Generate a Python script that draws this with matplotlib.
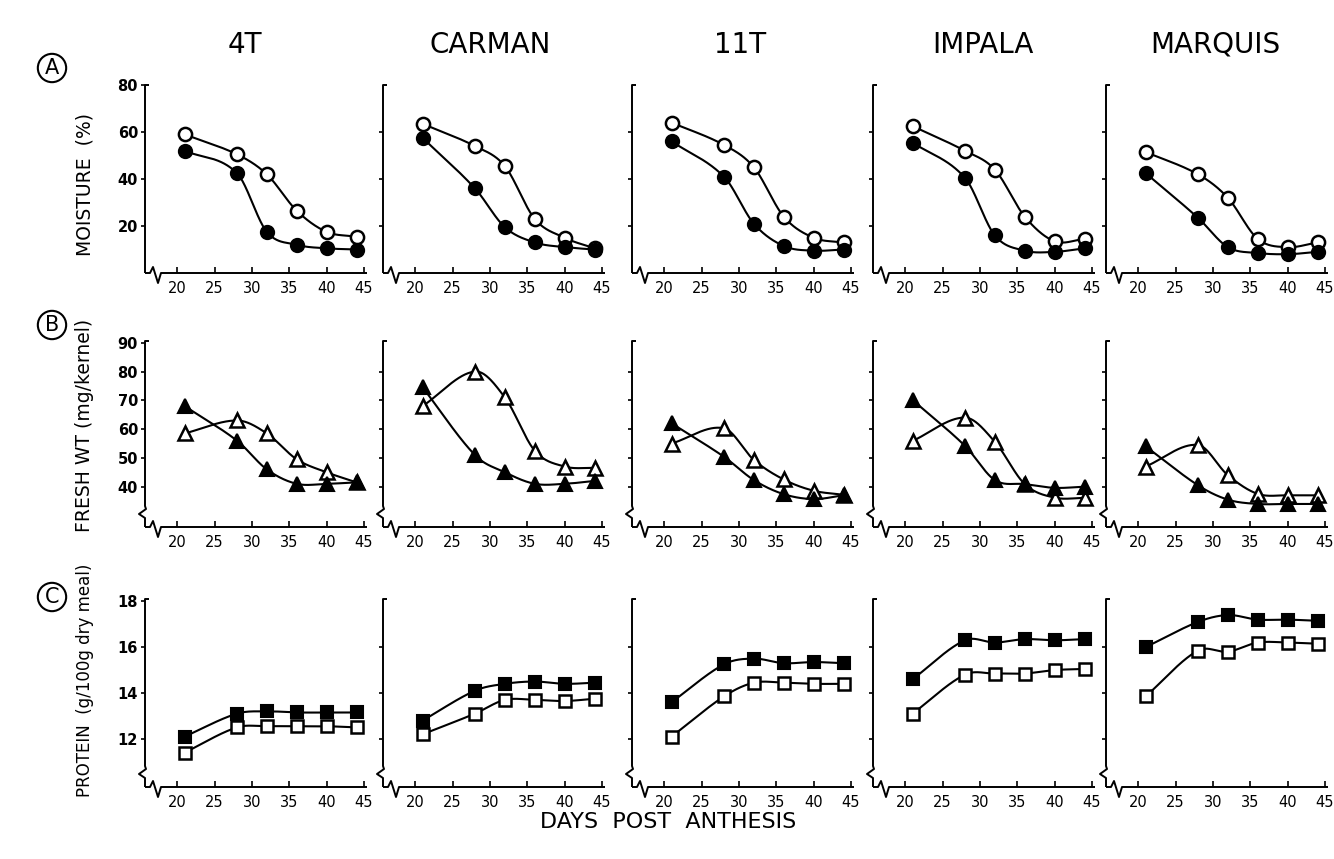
import numpy as np
import matplotlib.pyplot as plt

# sampling days (days post anthesis)
days = [21, 28, 32, 36, 40, 44]
cultivars = ['4T', 'CARMAN', '11T', 'IMPALA', 'MARQUIS']

# A: moisture (%)
moist_open = [[59, 50.5, 42, 26.5, 17.5, 15.5],
              [63.5, 54, 45.5, 23, 15, 10.5],
              [64, 54.5, 45, 24, 15, 13],
              [62.5, 52, 44, 24, 13.5, 14.5],
              [51.5, 42, 32, 14.5, 11, 13]]
moist_filled = [[52, 42.5, 17.5, 12, 10.5, 10],
                [57.5, 36, 19.5, 13, 11, 10],
                [56, 41, 21, 11.5, 9.5, 10],
                [55.5, 40.5, 16, 9.5, 9, 10.5],
                [42.5, 23.5, 11, 8.5, 8, 9]]

# B: fresh weight (mg/kernel)
fresh_open = [[58.5, 63, 58.5, 49.5, 45, 41.5],
              [68, 80, 71, 52.5, 47, 46.5],
              [55, 60.3, 49.3, 42.5, 38.6, 37.2],
              [55.9, 64, 55.6, 40.9, 36.2, 36.1],
              [47, 54.5, 44, 37.5, 37, 37]]
fresh_filled = [[68, 56, 46, 41, 41, 41.5],
                [74.5, 51, 45, 41, 41, 42],
                [62, 50.4, 42.3, 37.4, 35.7, 37],
                [70.1, 54.2, 42.3, 40.9, 39.6, 40],
                [54, 40.5, 35.5, 34, 34, 34]]

# C: protein (g/100g dry meal)
prot_open = [[11.4, 12.5, 12.55, 12.55, 12.55, 12.5],
             [12.2, 13.1, 13.7, 13.7, 13.65, 13.75],
             [12.1, 13.85, 14.45, 14.45, 14.4, 14.4],
             [13.1, 14.8, 14.85, 14.85, 15.0, 15.05],
             [13.85, 15.85, 15.8, 16.2, 16.2, 16.15]]
prot_filled = [[12.1, 13.1, 13.2, 13.15, 13.15, 13.15],
               [12.8, 14.1, 14.4, 14.5, 14.4, 14.45],
               [13.6, 15.25, 15.5, 15.3, 15.35, 15.3],
               [14.6, 16.3, 16.2, 16.35, 16.3, 16.35],
               [16.0, 17.1, 17.4, 17.2, 17.2, 17.15]]

W, H = 1334, 859


def smooth_curve(x, y, xs):
    """Cardinal (Catmull-Rom style) cubic through the points, for a drawn curve."""
    x = np.asarray(x, float)
    y = np.asarray(y, float)
    n = len(x)
    h = np.diff(x)
    m = np.zeros(n)
    m[1:-1] = (y[2:] - y[:-2]) / (x[2:] - x[:-2])
    m[0] = (y[1] - y[0]) / h[0]
    m[-1] = (y[-1] - y[-2]) / h[-1]
    idx = np.clip(np.searchsorted(x, xs) - 1, 0, n - 2)
    t = (xs - x[idx]) / h[idx]
    h00 = 2 * t**3 - 3 * t**2 + 1
    h10 = t**3 - 2 * t**2 + t
    h01 = -2 * t**3 + 3 * t**2
    h11 = t**3 - t**2
    return (h00 * y[idx] + h10 * h[idx] * m[idx]
            + h01 * y[idx + 1] + h11 * h[idx] * m[idx + 1])


def px_axes(left, top, bottom, width=222):
    return [left / W, 1 - bottom / H, width / W, (bottom - top) / H]


def draw_axes_lines(ax, hpx, ybreak, width=222):
    """Hand drawn axes with break marks, in pixel offsets from the corner."""
    ax.spines[:].set_visible(False)
    kw = dict(color='k', lw=1.4, transform=ax.transAxes, clip_on=False,
              solid_capstyle='butt')
    xs = np.array([0, 5, 8, 13, 16, width]) / width
    ys = np.array([0, 0, 6, -10, 0, 0]) / hpx
    ax.plot(xs, ys, **kw)
    if ybreak:
        yx = np.array([0, 0, -6, 1, 0, 0, 4]) / width
        yy = np.array([0, 9, 13, 18, 21, hpx, hpx]) / hpx
    else:
        yx = np.array([0, 0, 4]) / width
        yy = np.array([0, hpx, hpx]) / hpx
    ax.plot(yx, yy, **kw)


def draw_panel(ax, xo, yo, xf, yf, marker, msize):
    xs = np.linspace(days[0], days[-1], 300)
    ax.plot(xs, smooth_curve(days, yo, xs), color='k', lw=1.5, zorder=2)
    ax.plot(xs, smooth_curve(days, yf, xs), color='k', lw=1.5, zorder=2)
    ax.plot(xo, yo, ls='none', marker=marker, ms=msize, mfc='white',
            mec='k', mew=1.8, zorder=3)
    ax.plot(xf, yf, ls='none', marker=marker, ms=msize, mfc='k',
            mec='k', mew=1.5, zorder=4)


def main():
    plt.rcParams['font.family'] = ['DejaVu Sans']
    fig = plt.figure(figsize=(W / 100, H / 100), dpi=100)

    lefts = [145, 383, 632, 873, 1106]
    rows = [
        dict(top=85, bottom=273, ylim=(0, 80), ticks=[20, 40, 60, 80],
             opn=moist_open, fil=moist_filled, marker='o', ms=9.5,
             ybreak=False),
        dict(top=341, bottom=527, ylim=(26, 90.6),
             ticks=[40, 50, 60, 70, 80, 90],
             opn=fresh_open, fil=fresh_filled, marker='^', ms=9.5,
             ybreak=True),
        dict(top=599, bottom=787, ylim=(9.9, 18.1), ticks=[12, 14, 16, 18],
             opn=prot_open, fil=prot_filled, marker='s', ms=8,
             ybreak=True),
    ]

    for r, row in enumerate(rows):
        for c, left in enumerate(lefts):
            ax = fig.add_axes(px_axes(left, row['top'], row['bottom']))
            ax.set_xlim(15.7, 45.4)
            ax.set_ylim(*row['ylim'])
            draw_panel(ax, days, row['opn'][c], days, row['fil'][c],
                       row['marker'], row['ms'])
            draw_axes_lines(ax, row['bottom'] - row['top'], row['ybreak'])
            ax.set_xticks([20, 25, 30, 35, 40, 45])
            ax.set_yticks(row['ticks'][:-1])
            ax.tick_params(axis='x', direction='in', length=4, width=1.2,
                           labelsize=10.5, pad=6)
            ax.tick_params(axis='y', direction='out', length=3, width=1.2,
                           labelsize=10.5, pad=2)
            if c == 0:
                ax.set_yticks(row['ticks'])
                ax.set_yticklabels([str(t) for t in row['ticks']],
                                   fontweight='bold')
            else:
                ax.set_yticklabels([])
            ax.patch.set_alpha(0)

    # column titles
    title_x = [245, 490, 740, 983, 1215]
    for name, x in zip(cultivars, title_x):
        fig.text(x / W, 1 - 45 / H, name, ha='center', va='center',
                 fontsize=20)

    # circled panel letters
    for letter, y in zip(['A', 'B', 'C'], [68, 325, 597]):
        fig.text(52 / W, 1 - y / H, letter, ha='center', va='center',
                 fontsize=15,
                 bbox=dict(boxstyle='circle,pad=0.2', fc='none', ec='k',
                           lw=1.5))

    # row labels
    ylabels = ['MOISTURE  (%)', 'FRESH WT (mg/kernel)',
               'PROTEIN  (g/100g dry meal)']
    for lab, y, fs in zip(ylabels, [184, 425, 680], [13.5, 13.5, 12]):
        fig.text(85 / W, 1 - y / H, lab, rotation=90, ha='center',
                 va='center', fontsize=fs)

    fig.text(668 / W, 1 - 822 / H, 'DAYS  POST  ANTHESIS', ha='center',
             va='center', fontsize=16)

    fig.savefig('out.png', dpi=100)


if __name__ == "__main__":
    main()
